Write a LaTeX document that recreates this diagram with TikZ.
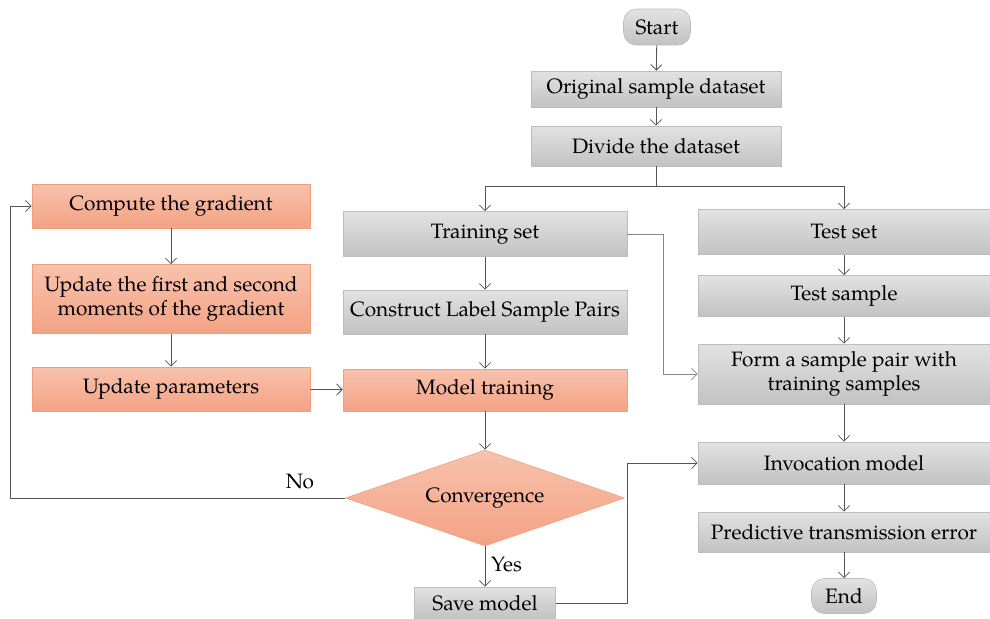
\documentclass[tikz,border=0pt]{standalone}
\usepackage{fontspec}
\setmainfont{TeX Gyre Pagella}
\usetikzlibrary{arrows.meta,shapes.geometric}
\definecolor{grayTop}{HTML}{E2E2E2}
\definecolor{grayBot}{HTML}{C2C2C2}
\definecolor{grayLine}{HTML}{BDBDBD}
\definecolor{orTop}{HTML}{F8C2AC}
\definecolor{orBot}{HTML}{F3A284}
\definecolor{orLine}{HTML}{F29E7C}
\definecolor{wire}{HTML}{555555}
\newcommand{\boxfont}{\fontsize{14.8}{17.5}\selectfont}
\tikzset{
  graybox/.style={rectangle, draw=grayLine, top color=grayTop, bottom color=grayBot,
    minimum height=#1, inner sep=0pt, align=center, font=\boxfont},
  orbox/.style={rectangle, draw=orLine, top color=orTop, bottom color=orBot,
    minimum height=#1, inner sep=0pt, align=center, font=\boxfont},
  term/.style={rectangle, rounded corners=9pt, draw=grayLine, top color=grayTop, bottom color=grayBot,
    inner sep=0pt, font=\boxfont},
  link/.style={draw=wire, line width=0.6pt, -{Straight Barb[length=4pt,width=8pt]}},
  plain/.style={draw=wire, line width=0.6pt},
  lbl/.style={font=\boxfont, inner sep=0pt}
}
\begin{document}
\begin{tikzpicture}[x=0.025cm, y=-0.025cm]
\useasboundingbox (0,0) rectangle (990,618);

% main column
\node[term, minimum width=67*0.025cm, minimum height=36*0.025cm] (start) at (657,27) {Start};
\node[graybox=36*0.025cm, minimum width=250*0.025cm] (orig) at (656,89) {Original sample dataset};
\node[graybox=40*0.025cm, minimum width=250*0.025cm] (divide) at (656,146) {Divide the dataset};

% training branch
\node[graybox=45*0.025cm, minimum width=284*0.025cm] (train) at (485,234) {Training set};
\node[graybox=44*0.025cm, minimum width=284*0.025cm] (pairs) at (485,312) {Construct Label Sample Pairs};
\node[orbox=42*0.025cm, minimum width=284*0.025cm] (model) at (485,390) {Model training};
\node[diamond, aspect=2.9, draw=orLine, top color=orTop, bottom color=orBot,
  minimum width=279*0.025cm, minimum height=96*0.025cm, inner sep=0pt,
  font=\boxfont] (conv) at (485,498) {Convergence};
\node[graybox=32*0.025cm, minimum width=141*0.025cm] (save) at (485,603) {Save model};

% optimiser loop
\node[orbox=44*0.025cm, minimum width=278*0.025cm] (grad) at (171,206) {Compute the gradient};
\node[orbox=69*0.025cm, minimum width=278*0.025cm] (moments) at (171,299) {Update the first and second\\moments of the gradient};
\node[orbox=44*0.025cm, minimum width=278*0.025cm] (params) at (171,389) {Update parameters};

% test branch
\node[graybox=45*0.025cm, minimum width=292*0.025cm] (test) at (844,232) {Test set};
\node[graybox=41*0.025cm, minimum width=292*0.025cm] (tsample) at (844,296) {Test sample};
\node[graybox=60*0.025cm, minimum width=292*0.025cm] (form) at (844,374) {Form a sample pair with\\training samples};
\node[graybox=42*0.025cm, minimum width=292*0.025cm] (invoke) at (844,463) {Invocation model};
\node[graybox=40*0.025cm, minimum width=292*0.025cm] (predict) at (844,532) {Predictive transmission error};
\node[term, minimum width=65*0.025cm, minimum height=35*0.025cm] (end) at (844,596) {End};

% split point
\coordinate (split) at (656,186);

% connectors
\draw[link] (start) -- (orig);
\draw[link] (orig) -- (divide);
\draw[plain] (divide.south) -- (split);
\draw[link] (split) -| (train.north);
\draw[link] (split) -| (test.north);
\draw[link] (train) -- (pairs);
\draw[link] (pairs) -- (model);
\draw[link] (model) -- (conv);
\draw[link] (conv) -- node[lbl, right=4pt, pos=0.45] {Yes} (save);
\draw[link] (conv.west) -- (10,498) |- (grad.west);
\node[lbl] (no) at (300,481) {No};
\draw[link] (grad) -- (moments);
\draw[link] (moments) -- (params);
\draw[link] (params) -- (model);
\draw[link, draw=wire!70] (train.east) -- (663,234) |- (form.west);
\draw[link] (save.east) -- (627,603) |- (invoke.west);
\draw[link] (test) -- (tsample);
\draw[link] (tsample) -- (form);
\draw[link] (form) -- (invoke);
\draw[link] (invoke) -- (predict);
\draw[link] (predict) -- (end);
\end{tikzpicture}
\end{document}
